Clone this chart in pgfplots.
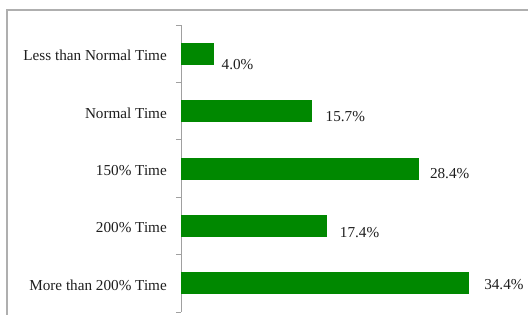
\documentclass[border=0pt]{standalone}
\usepackage{fontspec}
\setmainfont{Liberation Serif}
\usepackage{pgfplots}
\pgfplotsset{compat=1.18}
\definecolor{barGreen}{RGB}{0,136,0}
\definecolor{frameGray}{RGB}{175,175,175}
\definecolor{axGray}{RGB}{160,160,160}
\definecolor{txt}{RGB}{30,30,30}
\begin{document}
\begin{tikzpicture}
\path[use as bounding box] (0,0) rectangle (528pt,315pt);
\draw[frameGray, line width=1.3pt] (7pt,0pt) -- (7pt,305pt) -- (528pt,305pt);
\begin{axis}[
  at={(181pt,3pt)}, anchor=south west,
  scale only axis, width=335pt, height=287pt,
  xbar, bar width=22pt, bar shift=0pt,
  xmin=0, xmax=40, ymin=-0.5, ymax=4.5, y dir=reverse,
  axis x line=none, axis y line*=left,
  xtick=\empty,
  ytick={0,1,2,3,4},
  yticklabels={Less than Normal Time, Normal Time, 150\% Time, 200\% Time, More than 200\% Time},
  major tick length=0pt,
  minor ytick={-0.5,0.5,1.5,2.5,3.5,4.5},
  minor tick length=5pt, tick align=outside,
  tick style={axGray, line width=0.8pt},
  axis line style={axGray, line width=0.8pt},
  yticklabel style={font=\fontsize{15.2}{18}\selectfont, text=txt, inner sep=0pt, xshift=-14pt, yshift=-2pt},
  point meta=x,
  nodes near coords={\pgfmathprintnumber[assume math mode=true,fixed,fixed zerofill,precision=1]{\pgfplotspointmeta}\%},
  every node near coord/.append style={font=\fontsize{15.2}{18}\selectfont, text=txt, inner sep=0pt, anchor=west},
  clip=false,
]
\addplot[fill=barGreen, draw=none, nodes near coords style={xshift=7pt, yshift=-11pt}] coordinates {(4.0,0)};
\addplot[fill=barGreen, draw=none, nodes near coords style={xshift=13pt, yshift=-5.5pt}] coordinates {(15.7,1)};
\addplot[fill=barGreen, draw=none, nodes near coords style={xshift=11pt, yshift=-5pt}] coordinates {(28.4,2)};
\addplot[fill=barGreen, draw=none, nodes near coords style={xshift=13pt, yshift=-7pt}] coordinates {(17.4,3)};
\addplot[fill=barGreen, draw=none, nodes near coords style={xshift=15pt, yshift=-1pt}] coordinates {(34.4,4)};
\end{axis}
\end{tikzpicture}
\end{document}
